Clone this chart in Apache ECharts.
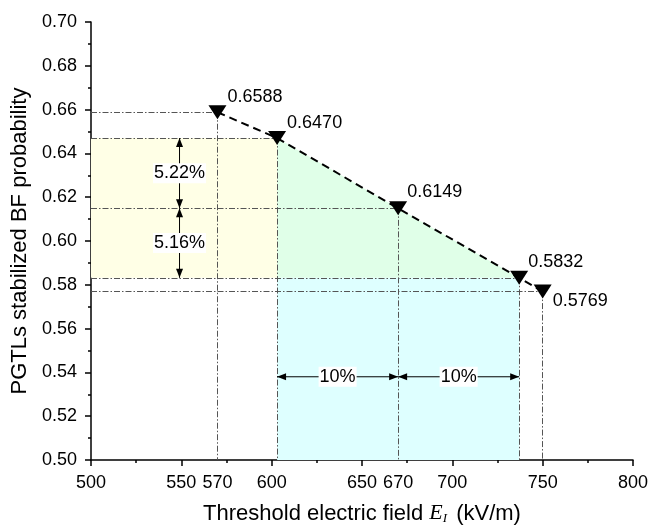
<!DOCTYPE html>
<html>
<head>
<meta charset="utf-8">
<script src="https://cdn.jsdelivr.net/npm/echarts@6/dist/echarts.min.js"></script>
<style>html,body{margin:0;padding:0;background:#fff}#c{width:652px;height:527px}</style>
</head>
<body>
<div id="c"></div>
<script>
// ---- data ----
const fieldE = [570, 603, 670, 737, 750];
const probability = [0.6588, 0.6470, 0.6149, 0.5832, 0.5769];
const pointLabels = ['0.6588', '0.6470', '0.6149', '0.5832', '0.5769'];
const extraXTickLabels = [570, 670];
const yTickLabels = ['0.50','0.52','0.54','0.56','0.58','0.60','0.62','0.64','0.66','0.68','0.70'];
const vertArrowX = 549;
const vertArrows = [[0.6470, 0.6149, '5.22%'], [0.6149, 0.5832, '5.16%']];
const horizArrowY = 0.538;
const horizArrows = [[603, 670, '10%'], [670, 737, '10%']];
const yellowRegion = [[500, 0.5832], [603, 0.5832], [603, 0.6470], [500, 0.6470]];
const greenRegion = [[603, 0.6470], [670, 0.6149], [737, 0.5832], [603, 0.5832]];
const cyanRegion = [[603, 0.50], [737, 0.50], [737, 0.5832], [603, 0.5832]];

const FONT = 'Liberation Sans, Arial, sans-serif';
const TXT = '#000';
const guideStyle = { color: '#555', width: 1, type: [6, 2, 1.5, 2] };

function regionSeries(region, color) {
  return {
    type: 'custom', z: 1, silent: true,
    data: [0],
    renderItem: function (params, api) {
      return { type: 'polygon', shape: { points: region.map(p => api.coord(p)) }, style: { fill: color } };
    }
  };
}

const guideLines = [];
fieldE.forEach((x, i) => {
  guideLines.push([{ coord: [500, probability[i]] }, { coord: [x, probability[i]] }]);
  guideLines.push([{ coord: [x, probability[i]] }, { coord: [x, 0.5] }]);
});

const arrowData = [];
vertArrows.forEach(a => arrowData.push([vertArrowX, a[0], vertArrowX, a[1]]));
horizArrows.forEach(a => arrowData.push([a[0], horizArrowY, a[1], horizArrowY]));

const pctLabelData = [];
vertArrows.forEach(a => pctLabelData.push([vertArrowX, (a[0] + a[1]) / 2, a[2]]));
horizArrows.forEach(a => pctLabelData.push([(a[0] + a[1]) / 2, horizArrowY, a[2]]));

const labelOffsets = [[0, -15], [0, -15], [-1, -16], [-1, -16], [0, 9]];
const mainData = fieldE.map((x, i) => ({
  value: [x, probability[i]],
  label: { show: true, position: 'right', distance: 1, offset: labelOffsets[i], formatter: pointLabels[i] }
}));

function arrowHead(tip, dir) {
  const L = 9, W = 3.5;
  const bx = tip[0] - dir[0] * L, by = tip[1] - dir[1] * L;
  const nx = -dir[1], ny = dir[0];
  return {
    type: 'polygon',
    shape: { points: [tip, [bx + nx * W, by + ny * W], [bx - nx * W, by - ny * W]] },
    style: { fill: '#000' }
  };
}

const chart = echarts.init(document.getElementById('c'), null, { renderer: 'canvas' });
chart.setOption({
  animation: false,
  backgroundColor: '#fff',
  grid: { left: 91, right: 19, top: 22, bottom: 67, containLabel: false, outerBoundsMode: 'none' },
  xAxis: [{
    type: 'value', min: 500, max: 800, interval: 50,
    axisLine: { lineStyle: { color: '#000', width: 1.5 } },
    axisTick: { show: true, length: 6, lineStyle: { color: '#000', width: 1.5 } },
    minorTick: { show: true, splitNumber: 2, length: 3, lineStyle: { color: '#000', width: 1.5 } },
    splitLine: { show: false },
    axisLabel: { color: TXT, fontSize: 18, fontFamily: FONT, margin: 14 },
    name: 'Threshold electric field {i|E}{s|I} (kV/m)',
    nameLocation: 'middle', nameGap: 42,
    nameTextStyle: {
      color: TXT, fontSize: 22, fontFamily: FONT,
      rich: {
        i: { fontSize: 22, fontStyle: 'italic', fontFamily: 'Liberation Serif, serif', color: TXT },
        s: { fontSize: 13, fontStyle: 'italic', fontFamily: 'Liberation Serif, serif', color: TXT, padding: [10, 3, 0, 0] }
      }
    }
  }, {
    type: 'value', min: 500, max: 800, interval: 10, position: 'bottom',
    axisLine: { show: false }, axisTick: { show: false }, splitLine: { show: false },
    axisLabel: {
      color: TXT, fontSize: 18, fontFamily: FONT, margin: 14,
      formatter: v => extraXTickLabels.indexOf(Math.round(v)) >= 0 ? String(Math.round(v)) : ''
    }
  }],
  yAxis: {
    type: 'value', min: 0.5, max: 0.7, interval: 0.02,
    axisLine: { show: true, lineStyle: { color: '#000', width: 1.5 } },
    axisTick: { show: true, length: 6, lineStyle: { color: '#000', width: 1.5 } },
    minorTick: { show: true, splitNumber: 2, length: 3, lineStyle: { color: '#000', width: 1.5 } },
    splitLine: { show: false },
    axisLabel: {
      color: TXT, fontSize: 18, fontFamily: FONT, margin: 14,
      formatter: v => yTickLabels[Math.round((v - 0.5) / 0.02)]
    },
    name: 'PGTLs stabilized BF probability',
    nameLocation: 'middle', nameGap: 56,
    nameTextStyle: { color: TXT, fontSize: 22, fontFamily: FONT }
  },
  series: [
    regionSeries(yellowRegion, '#FFFFE6'),
    regionSeries(greenRegion, '#E0FFE8'),
    regionSeries(cyanRegion, '#DEFFFF'),
    {
      type: 'line', data: [], z: 2, silent: true,
      markLine: {
        silent: true, symbol: ['none', 'none'], animation: false, z: 2,
        label: { show: false }, lineStyle: guideStyle,
        emphasis: { disabled: true },
        data: guideLines
      }
    },
    {
      type: 'custom', z: 6, silent: true,
      data: arrowData,
      renderItem: function (params, api) {
        const p1 = api.coord([api.value(0), api.value(1)]);
        const p2 = api.coord([api.value(2), api.value(3)]);
        const dx = p2[0] - p1[0], dy = p2[1] - p1[1];
        const len = Math.sqrt(dx * dx + dy * dy);
        const d = [dx / len, dy / len];
        return {
          type: 'group',
          children: [
            { type: 'line', shape: { x1: p1[0], y1: p1[1], x2: p2[0], y2: p2[1] }, style: { stroke: '#000', lineWidth: 1 } },
            arrowHead(p2, d),
            arrowHead(p1, [-d[0], -d[1]])
          ]
        };
      }
    },
    {
      type: 'custom', z: 7, silent: true,
      data: pctLabelData,
      renderItem: function (params, api) {
        const p = api.coord([api.value(0), api.value(1)]);
        return {
          type: 'text',
          x: p[0], y: p[1],
          style: {
            text: pctLabelData[params.dataIndex][2],
            fill: TXT, font: '18px ' + FONT,
            align: 'center', verticalAlign: 'middle',
            backgroundColor: '#fff', padding: [1, 1]
          }
        };
      }
    },
    {
      type: 'line', z: 10, data: mainData,
      symbol: 'triangle', symbolRotate: 180, symbolSize: [18, 14],
      itemStyle: { color: '#000' },
      lineStyle: { color: '#000', width: 2, type: [8, 5] },
      label: { color: TXT, fontSize: 18, fontFamily: FONT },
      emphasis: { disabled: true }
    }
  ]
});
</script>
</body>
</html>
